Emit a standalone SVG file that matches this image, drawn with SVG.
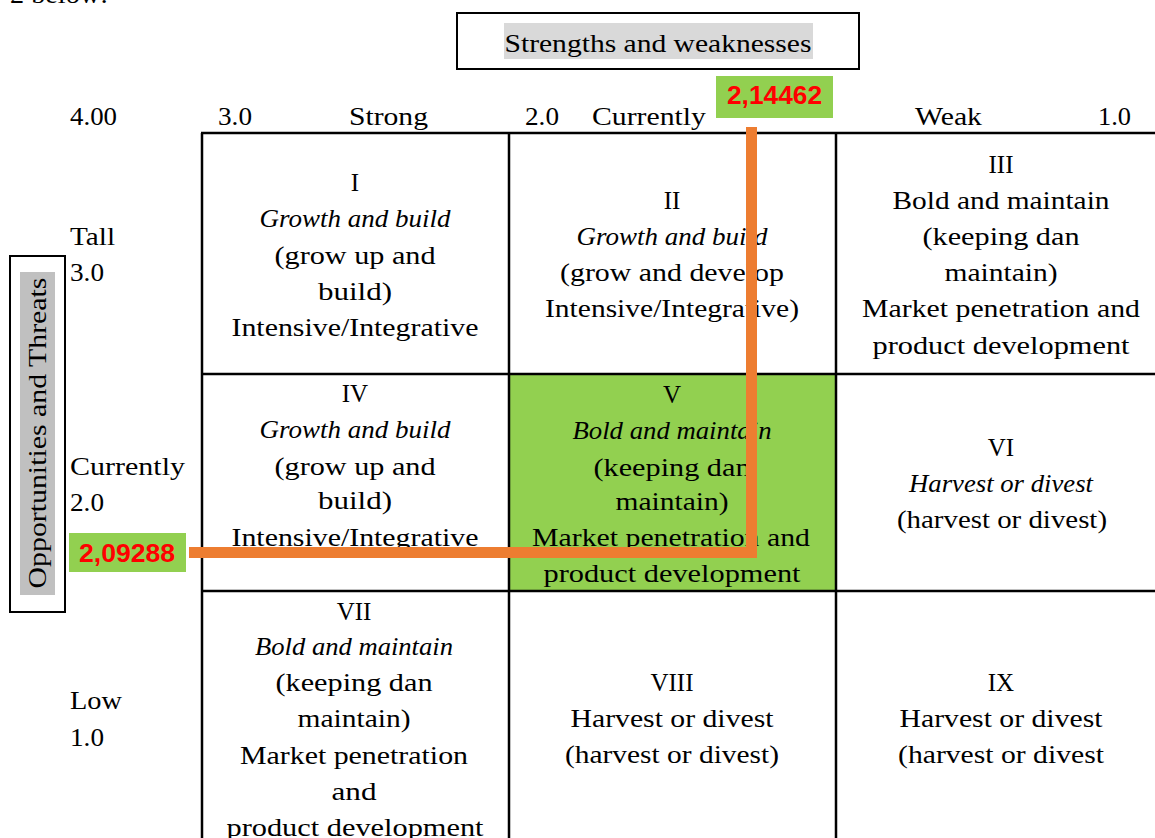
<svg xmlns="http://www.w3.org/2000/svg" width="1155" height="838" viewBox="0 0 1155 838">
<style>
.t{font-family:"Liberation Serif","Times New Roman",serif;font-size:25px;fill:#000;text-anchor:middle}
.s{text-anchor:start}
.i{font-style:italic}
.n{font-family:"Liberation Sans",Arial,sans-serif;font-size:26px;font-weight:bold;fill:#FF0000;text-anchor:middle}
.g{stroke:#000;stroke-width:2.5;fill:none}
.box{fill:none;stroke:#000;stroke-width:2}
</style>
<rect width="1155" height="838" fill="#fff"/>
<text class="t s" x="10" y="3" textLength="98" lengthAdjust="spacingAndGlyphs">2 below:</text>

<g id="title">
<rect class="box" x="457" y="13" width="402" height="56"/>
<rect x="504" y="23" width="309" height="36" fill="#D9D9D9"/>
<text class="t" x="658" y="52" textLength="307" lengthAdjust="spacingAndGlyphs">Strengths and weaknesses</text>
</g>

<g id="y-axis-title">
<rect class="box" x="10" y="256" width="55" height="356"/>
<rect x="20" y="272" width="35" height="323" fill="#C0C0C0"/>
<text class="t" transform="translate(46,433) rotate(-90)" x="0" y="0" textLength="311" lengthAdjust="spacingAndGlyphs">Opportunities and Threats</text>
</g>

<g id="x-axis-labels">
<text class="t s" x="70" y="125" textLength="47" lengthAdjust="spacingAndGlyphs">4.00</text>
<text class="t s" x="218" y="125" textLength="34" lengthAdjust="spacingAndGlyphs">3.0</text>
<text class="t s" x="349" y="125" textLength="79" lengthAdjust="spacingAndGlyphs">Strong</text>
<text class="t s" x="525" y="125" textLength="34" lengthAdjust="spacingAndGlyphs">2.0</text>
<text class="t s" x="592" y="125" textLength="114" lengthAdjust="spacingAndGlyphs">Currently</text>
<text class="t s" x="915" y="125" textLength="67" lengthAdjust="spacingAndGlyphs">Weak</text>
<text class="t s" x="1098" y="125" textLength="33" lengthAdjust="spacingAndGlyphs">1.0</text>
</g>

<g id="y-axis-labels">
<text class="t s" x="70" y="245" textLength="45" lengthAdjust="spacingAndGlyphs">Tall</text>
<text class="t s" x="70" y="281" textLength="34" lengthAdjust="spacingAndGlyphs">3.0</text>
<text class="t s" x="70" y="475" textLength="115" lengthAdjust="spacingAndGlyphs">Currently</text>
<text class="t s" x="70" y="511" textLength="34" lengthAdjust="spacingAndGlyphs">2.0</text>
<text class="t s" x="70" y="709" textLength="52" lengthAdjust="spacingAndGlyphs">Low</text>
<text class="t s" x="70" y="746" textLength="34" lengthAdjust="spacingAndGlyphs">1.0</text>
</g>

<g id="cell-V-bg">
<rect x="510" y="375" width="325" height="215" fill="#92D050"/>
</g>

<g id="grid">
<path class="g" d="M201,133H1155M201,374H1155M201,591H1155M202,133V838M509,133V838M836,133V838"/>
</g>

<g id="cell-I">
<text class="t" x="355" y="191">I</text>
<text class="t i" x="355" y="227" textLength="191" lengthAdjust="spacingAndGlyphs">Growth and build</text>
<text class="t" x="355" y="264" textLength="161" lengthAdjust="spacingAndGlyphs">(grow up and</text>
<text class="t" x="355" y="300" textLength="74" lengthAdjust="spacingAndGlyphs">build)</text>
<text class="t" x="355" y="336" textLength="247" lengthAdjust="spacingAndGlyphs">Intensive/Integrative</text>
</g>

<g id="cell-II">
<text class="t" x="672" y="209">II</text>
<text class="t i" x="672" y="245" textLength="191" lengthAdjust="spacingAndGlyphs">Growth and build</text>
<text class="t" x="672" y="281" textLength="224" lengthAdjust="spacingAndGlyphs">(grow and develop</text>
<text class="t" x="672" y="317" textLength="254" lengthAdjust="spacingAndGlyphs">Intensive/Integrative)</text>
</g>

<g id="cell-III">
<text class="t" x="1001" y="173">III</text>
<text class="t" x="1001" y="209" textLength="217" lengthAdjust="spacingAndGlyphs">Bold and maintain</text>
<text class="t" x="1001" y="245" textLength="157" lengthAdjust="spacingAndGlyphs">(keeping dan</text>
<text class="t" x="1001" y="281" textLength="113" lengthAdjust="spacingAndGlyphs">maintain)</text>
<text class="t" x="1001" y="317" textLength="278" lengthAdjust="spacingAndGlyphs">Market penetration and</text>
<text class="t" x="1001" y="354" textLength="257" lengthAdjust="spacingAndGlyphs">product development</text>
</g>

<g id="cell-IV">
<text class="t" x="355" y="402">IV</text>
<text class="t i" x="355" y="438" textLength="191" lengthAdjust="spacingAndGlyphs">Growth and build</text>
<text class="t" x="355" y="475" textLength="161" lengthAdjust="spacingAndGlyphs">(grow up and</text>
<text class="t" x="355" y="509" textLength="74" lengthAdjust="spacingAndGlyphs">build)</text>
<text class="t" x="355" y="546" textLength="247" lengthAdjust="spacingAndGlyphs">Intensive/Integrative</text>
</g>

<g id="cell-V">
<text class="t" x="672" y="403">V</text>
<text class="t i" x="672" y="439" textLength="199" lengthAdjust="spacingAndGlyphs">Bold and maintain</text>
<text class="t" x="672" y="476" textLength="157" lengthAdjust="spacingAndGlyphs">(keeping dan</text>
<text class="t" x="672" y="510" textLength="113" lengthAdjust="spacingAndGlyphs">maintain)</text>
<text class="t" x="671" y="546" textLength="278" lengthAdjust="spacingAndGlyphs">Market penetration and</text>
<text class="t" x="672" y="582" textLength="257" lengthAdjust="spacingAndGlyphs">product development</text>
</g>

<g id="cell-VI">
<text class="t" x="1001" y="456">VI</text>
<text class="t i" x="1001" y="492" textLength="184" lengthAdjust="spacingAndGlyphs">Harvest or divest</text>
<text class="t" x="1002" y="528" textLength="210" lengthAdjust="spacingAndGlyphs">(harvest or divest)</text>
</g>

<g id="cell-VII">
<text class="t" x="354" y="620">VII</text>
<text class="t i" x="354" y="655" textLength="198" lengthAdjust="spacingAndGlyphs">Bold and maintain</text>
<text class="t" x="354" y="691" textLength="157" lengthAdjust="spacingAndGlyphs">(keeping dan</text>
<text class="t" x="354" y="727" textLength="113" lengthAdjust="spacingAndGlyphs">maintain)</text>
<text class="t" x="354" y="764" textLength="228" lengthAdjust="spacingAndGlyphs">Market penetration</text>
<text class="t" x="354" y="800" textLength="45" lengthAdjust="spacingAndGlyphs">and</text>
<text class="t" x="355" y="836" textLength="257" lengthAdjust="spacingAndGlyphs">product development</text>
</g>

<g id="cell-VIII">
<text class="t" x="672" y="691">VIII</text>
<text class="t" x="672" y="727" textLength="203" lengthAdjust="spacingAndGlyphs">Harvest or divest</text>
<text class="t" x="672" y="763" textLength="214" lengthAdjust="spacingAndGlyphs">(harvest or divest)</text>
</g>

<g id="cell-IX">
<text class="t" x="1001" y="691">IX</text>
<text class="t" x="1001" y="727" textLength="203" lengthAdjust="spacingAndGlyphs">Harvest or divest</text>
<text class="t" x="1001" y="763" textLength="206" lengthAdjust="spacingAndGlyphs">(harvest or divest</text>
</g>

<g id="connectors">
<path d="M189,552.5H751.5V127" fill="none" stroke="#ED7D31" stroke-width="11" stroke-linejoin="miter"/>
</g>

<g id="value-x">
<rect x="716" y="76" width="117" height="42" fill="#92D050"/>
<text class="n" x="774.5" y="104" textLength="95" lengthAdjust="spacingAndGlyphs">2,14462</text>
</g>

<g id="value-y">
<rect x="69" y="533" width="117" height="39" fill="#92D050"/>
<text class="n" x="127" y="562" textLength="96" lengthAdjust="spacingAndGlyphs">2,09288</text>
</g>
</svg>
